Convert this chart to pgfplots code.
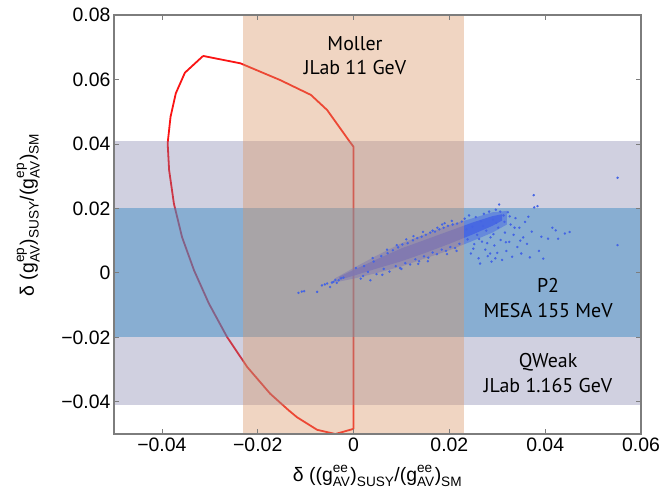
\documentclass[border=0pt]{standalone}
\usepackage{amsmath}
\usepackage{fontspec}
\setmainfont{Liberation Sans}
\newfontfamily\annfont{PT Sans}
\usepackage{pgfplots}
\pgfplotsset{compat=1.18}
\definecolor{qweak}{RGB}{121,121,166}
\definecolor{ptwo}{RGB}{64,140,198}
\definecolor{moller}{RGB}{217,150,102}
\definecolor{pts}{RGB}{68,100,228}
\definecolor{frame}{RGB}{125,125,125}
\definecolor{curve}{RGB}{250,20,20}
\begin{document}
\begin{tikzpicture}
\begin{axis}[
  scale only axis,
  width=527bp, height=419bp,
  xmin=-0.05, xmax=0.06, ymin=-0.05, ymax=0.08,
  scaled ticks=false,
  axis on top,
  axis line style={frame, line width=1.2bp},
  tick style={frame, line width=0.8bp},
  major tick length=5bp,
  xtick={-0.04,-0.02,0,0.02,0.04,0.06},
  xticklabels={−0.04,−0.02,0,0.02,0.04,0.06},
  ytick={-0.04,-0.02,0,0.02,0.04,0.06,0.08},
  yticklabels={−0.04,−0.02,0,0.02,0.04,0.06,0.08},
  ticklabel style={font=\fontsize{19.5}{22}\selectfont},
  label style={font=\fontsize{19.5}{22}\selectfont},
  xlabel={δ $\text{((g}^{\text{ee}}_{\text{AV}}\text{)}_{\text{SUSY}}\text{/(g}^{\text{ee}}_{\text{AV}}\text{)}_{\text{SM}}$},
  ylabel={δ $\text{(g}^{\text{ep}}_{\text{AV}}\text{)}_{\text{SUSY}}\text{/(g}^{\text{ep}}_{\text{AV}}\text{)}_{\text{SM}}$},
  xlabel style={at={(axis description cs:0.5,-0.1)}, anchor=center},
  ylabel style={at={(axis description cs:-0.163,0.523)}, anchor=center},
]
% exclusion contour
\addplot[curve, line width=1.8bp, line join=round] coordinates {
(-0.0314,0.0673) (-0.0352,0.0621) (-0.0371,0.0557) (-0.0382,0.0484) (-0.0388,0.0402)
(-0.0385,0.0319) (-0.0375,0.0215) (-0.0358,0.0111) (-0.0333,0.0008) (-0.0302,-0.0095)
(-0.0264,-0.0199) (-0.0222,-0.0292) (-0.0174,-0.0375) (-0.0135,-0.0427) (-0.0118,-0.0448)
(-0.0076,-0.0487) (-0.0038,-0.0500) (0,-0.0484) (0,0.0391) (-0.0008,0.0407)
(-0.0055,0.0505) (-0.0089,0.0552) (-0.0153,0.0598) (-0.0236,0.0650) (-0.0314,0.0673)};
% QWeak band
\addplot[draw=none, fill=qweak, fill opacity=0.35] coordinates {(-0.06,-0.041) (0.07,-0.041) (0.07,0.041) (-0.06,0.041)} -- cycle;
% P2 band
\addplot[draw=none, fill=ptwo, fill opacity=0.5] coordinates {(-0.06,-0.02) (0.07,-0.02) (0.07,0.02) (-0.06,0.02)} -- cycle;
% outer, sparser part of the scan cloud
\addplot[draw=none, fill=pts, fill opacity=0.5] coordinates {
(-0.004,-0.0018) (0.0,0.0015) (0.005,0.0055) (0.010,0.0092) (0.015,0.0120) (0.020,0.0148)
(0.025,0.0170) (0.029,0.0188) (0.032,0.0192) (0.032,0.0150) (0.029,0.0125) (0.025,0.0100)
(0.020,0.0070) (0.015,0.0045) (0.010,0.0020) (0.005,0.0000) (0.0,-0.0018) (-0.004,-0.0030)} -- cycle;
% dense core of the scan cloud
\addplot[draw=none, fill=pts, fill opacity=0.85] coordinates {
(-0.003,-0.0012) (0.0,0.0009) (0.005,0.0043) (0.010,0.0076) (0.015,0.0103) (0.020,0.0130)
(0.025,0.0157) (0.029,0.0176) (0.031,0.0182) (0.031,0.0162) (0.029,0.0146) (0.025,0.0120)
(0.020,0.0090) (0.015,0.0062) (0.010,0.0036) (0.005,0.0014) (0.0,-0.0009) (-0.003,-0.0022)} -- cycle;
% scattered scan points
\addplot[only marks, mark=*, mark size=1.0bp, pts, mark options={draw=none, fill=pts}] coordinates {
(-0.0115,-0.0062) (-0.0108,-0.0058) (-0.0103,-0.0057) (-0.0076,-0.0059) (-0.0066,-0.0039)
(-0.0060,-0.0036) (-0.0055,-0.0033) (-0.0049,-0.0044) (-0.0042,-0.0028) (-0.0038,-0.0022)
(-0.0031,-0.0023) (-0.0026,-0.0017) (-0.0021,-0.0015) (-0.0045,-0.0030) (-0.0035,-0.0031)
(0.0015,-0.0018) (0.0035,-0.0023) (0.0005,0.0015) (0.0022,0.0021) (0.0030,0.0003)
(0.0042,0.0035) (0.0048,-0.0004) (0.0058,0.0052) (0.0063,0.0012) (0.0071,0.0061)
(0.0075,0.0004) (0.0082,0.0070) (0.0088,0.0021) (0.0093,0.0079) (0.0097,0.0015)
(0.0102,0.0088) (0.0108,0.0030) (0.0113,0.0092) (0.0118,0.0026) (0.0124,0.0101)
(0.0129,0.0042) (0.0133,0.0108) (0.0137,0.0036) (0.0142,0.0112) (0.0147,0.0051)
(0.0151,0.0118) (0.0156,0.0047) (0.0160,0.0125) (0.0165,0.0063) (0.0170,0.0128)
(0.0174,0.0058) (0.0179,0.0135) (0.0184,0.0072) (0.0188,0.0140) (0.0193,0.0068)
(0.0197,0.0146) (0.0202,0.0080) (0.0207,0.0150) (0.0212,0.0077) (0.0216,0.0153)
(0.0221,0.0090) (0.0226,0.0159) (0.0125,0.0114) (0.0145,0.0127) (0.0185,0.0150)
(0.0205,0.0161) (0.0110,0.0104) (0.0090,0.0086) (0.0070,0.0072) (0.0155,0.0036)
(0.0195,0.0058) (0.0215,0.0068) (0.0135,0.0028) (0.0040,0.0046) (0.0020,-0.0010)
(0.0060,-0.0006) (0.0100,0.0012) (0.0175,0.0140) (0.0190,0.0154) (0.0165,0.0131)
(0.0232,0.0168) (0.0238,0.0104) (0.0241,0.0178) (0.0245,0.0060) (0.0248,0.0143)
(0.0252,0.0089) (0.0255,0.0173) (0.0258,0.0118) (0.0261,0.0045) (0.0264,0.0029)
(0.0266,0.0160) (0.0268,0.0097) (0.0272,0.0183) (0.0275,0.0072) (0.0277,0.0131)
(0.0280,0.0052) (0.0283,0.0190) (0.0286,0.0110) (0.0288,0.0035) (0.0291,0.0165)
(0.0294,0.0085) (0.0297,0.0196) (0.0300,0.0062) (0.0302,0.0140) (0.0304,0.0212)
(0.0307,0.0102) (0.0310,0.0040) (0.0313,0.0178) (0.0316,0.0125) (0.0319,0.0068)
(0.0322,0.0188) (0.0325,0.0096) (0.0328,0.0150) (0.0331,0.0050) (0.0334,0.0118)
(0.0338,0.0170) (0.0342,0.0080) (0.0346,0.0140) (0.0350,0.0060) (0.0354,0.0110)
(0.0358,0.0158) (0.0362,0.0090) (0.0365,0.0174) (0.0368,0.0048) (0.0372,0.0128)
(0.0376,0.0241) (0.0377,0.0203) (0.0384,0.0207) (0.0387,0.0068) (0.0392,0.0112)
(0.0396,0.0044) (0.0406,0.0106) (0.0415,0.0140) (0.0422,0.0132) (0.0427,0.0106)
(0.0441,0.0122) (0.0451,0.0127) (0.0551,0.0295) (0.0551,0.0086)
(0.0236,0.0135) (0.0250,0.0075) (0.0262,0.0105) (0.0270,0.0145) (0.0279,0.0092)
(0.0292,0.0120) (0.0298,0.0155) (0.0306,0.0190) (0.0315,0.0158) (0.0326,0.0175)
(0.0285,0.0060) (0.0296,0.0045) (0.0318,0.0095) (0.0336,0.0140) (0.0348,0.0100)};
% Moller band
\addplot[draw=none, fill=moller, fill opacity=0.4] coordinates {(-0.023,-0.06) (0.023,-0.06) (0.023,0.09) (-0.023,0.09)} -- cycle;
% annotations
\node[font=\annfont\fontsize{20}{24}\selectfont, align=center] at (axis cs:0.0003,0.0674) {Moller\\[1bp]JLab 11 GeV};
\node[font=\annfont\fontsize{20}{24}\selectfont, align=center] at (axis cs:0.0406,-0.0077) {P2\\[1bp]MESA 155 MeV};
\node[font=\annfont\fontsize{20}{24}\selectfont, align=center] at (axis cs:0.0406,-0.0310) {QWeak\\[1bp]JLab 1.165 GeV};
\end{axis}
\pgfresetboundingbox
\path[use as bounding box] ([xshift=-114bp,yshift=-59bp]current axis.south west) rectangle ([xshift=23bp,yshift=15bp]current axis.north east);
\end{tikzpicture}
\end{document}
